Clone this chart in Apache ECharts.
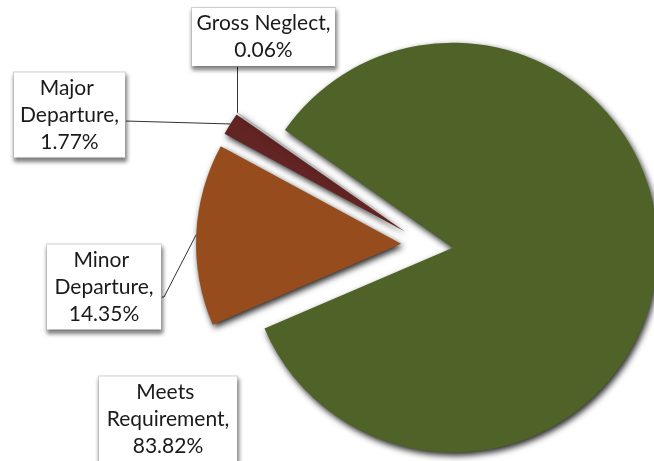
<!DOCTYPE html>
<html>
<head>
<meta charset="utf-8">
<script src="https://cdn.jsdelivr.net/npm/echarts@6/dist/echarts.min.js"></script>
<style>
  html, body { margin: 0; padding: 0; background: #ffffff; }
  #chart { width: 654px; height: 461px; }
</style>
</head>
<body>
<div id="chart"></div>
<script>
// ---- data ----
var categories = ['Meets Requirement', 'Minor Departure', 'Major Departure', 'Gross Neglect'];
var values = [83.82, 14.35, 1.77, 0.06];
var colors = ['#4f6228', '#974c1e', '#632523', '#a6a6a6'];

// ---- layout (not data) ----
var START_ANGLE = 145;
var BASE_CENTER = [427, 245];
var RADIUS = 205;
var EXPLODE = 26;
// label boxes: [centerX, centerY, width]
var labelBoxes = [
  [168, 419, 138],
  [104, 287, 114],
  [69.5, 115, 111],
  [263.5, 37, 143]
];

var total = values.reduce(function (a, b) { return a + b; }, 0);
var cum = 0;
var series = [];
values.forEach(function (v, i) {
  var midDeg = START_ANGLE - (cum + v / 2) / total * 360;
  cum += v;
  var mid = midDeg * Math.PI / 180;
  var center = [BASE_CENTER[0] + Math.cos(mid) * EXPLODE, BASE_CENTER[1] - Math.sin(mid) * EXPLODE];
  var box = labelBoxes[i];
  var data = categories.map(function (name, j) {
    var own = (j === i);
    return {
      name: name,
      value: values[j],
      itemStyle: own ? {
        color: colors[j],
        shadowColor: 'rgba(0,0,0,0.85)',
        shadowBlur: 6,
        shadowOffsetX: 2,
        shadowOffsetY: 3
      } : { color: 'rgba(0,0,0,0)', shadowBlur: 0, borderWidth: 0 },
      label: { show: own },
      labelLine: { show: own && i !== 0 },
      emphasis: { disabled: true }
    };
  });
  series.push({
    type: 'pie',
    silent: true,
    animation: false,
    startAngle: START_ANGLE,
    clockwise: true,
    center: center,
    radius: RADIUS,
    avoidLabelOverlap: false,
    z: 2 + i,
    data: data,
    label: {
      position: 'outside',
      formatter: function (p) { return p.name + ',\n' + p.value.toFixed(2) + '%'; },
      fontFamily: 'Lato',
      fontSize: 21,
      lineHeight: 27,
      color: '#1a1a1a',
      align: 'center',
      width: box[2] - 8,
      overflow: 'break',
      padding: [2, 4],
      backgroundColor: '#ffffff',
      borderColor: '#d4d4d4',
      borderWidth: 1,
      shadowColor: 'rgba(0,0,0,0.45)',
      shadowBlur: 4,
      shadowOffsetX: 1,
      shadowOffsetY: 3
    },
    labelLine: {
      show: true,
      lineStyle: { color: '#333333', width: 1 }
    },
    labelLayout: function (params) {
      if (params.dataIndex !== i) return {};
      var out = { x: box[0], y: box[1], align: 'center', verticalAlign: 'middle' };
      var pts = params.labelLinePoints;
      if (pts && pts.length) {
        var a = pts[0];
        var left = box[0] - box[2] / 2, right = box[0] + box[2] / 2;
        if (i === 1) {
          out.labelLinePoints = [a, [right + 3, 297], [right, 297]];
        } else if (i === 2) {
          out.labelLinePoints = [a, [right, 121]];
        } else if (i === 3) {
          out.labelLinePoints = [a, [a[0], box[1] + 30]];
        }
      }
      return out;
    }
  });
});

var chart = echarts.init(document.getElementById('chart'), null, { renderer: 'canvas' });
chart.setOption({
  backgroundColor: '#ffffff',
  animation: false,
  series: series
});
</script>
</body>
</html>
